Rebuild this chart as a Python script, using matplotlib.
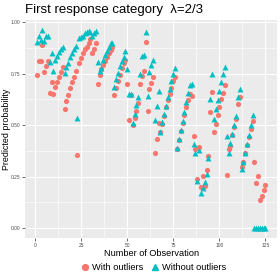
import numpy as np
import matplotlib
matplotlib.use("Agg")
import matplotlib.pyplot as plt
from matplotlib.lines import Line2D

plt.rcParams['font.family'] = ['Liberation Sans', 'DejaVu Sans']

# Predicted probabilities, observation 1..125
obs = np.arange(1, 126)

with_outliers = [
    .741, .809, .809, .89, .76, .788, .809,
    .658, .71, .652, .683, .71, .736, .76, .783,
    .578, .615, .647, .68, .707, .735, .762,
    .356,
    .80, .825, .85, .87, .88, .90, .92, .85, .87, .90,
    .70, .744, .772, .79, .81, .83, .85, .865, .88,
    .644, .68, .712, .744, .777, .80, .817,
    .70, .525, .647, .50, .534, .571, .607,
    .70, .74, .765, .906, .569, .676, .704, .736,
    .367, .433, .51,
    .469, .506, .545, .587, .62, .652, .68, .712, .736,
    .383, .43, .47, .51, .55, .59, .623, .652, .642,
    .448, .383, .238, .396, .199, .254, .205, .283, .351,
    .566, .663, .469, .506, .547, .587, .626, .658, .696,
    .259, .383, .40, .45, .49, .53, .603, .636,
    .299, .323, .364, .404, .44, .48, .522,
    .323, .221, .254, .137, .157, .183, .21,
]

without_outliers = [
    .903, .935, .914, .963, .91, .933, .935,
    .806, .85, .765, .817, .836, .854, .87, .88,
    .752, .78, .804, .83, .852, .87, .885,
    .534,
    .922, .93, .935, .947, .95, .955, .95, .935, .945, .955,
    .806, .764, .777, .817, .84, .86, .88, .90, .90,
    .683, .725, .752, .785, .809, .833, .86,
    .773, .653, .653, .51, .553, .598, .639,
    .748, .838, .84, .95, .642, .757, .79, .817,
    .526, .595, .667,
    .469, .513, .555, .594, .636, .675, .712, .749, .777,
    .388, .432, .477, .521, .566, .61, .655, .696, .70,
    .41, .367, .231, .377, .17, .194, .226, .264, .34,
    .628, .748, .53, .578, .623, .667, .707, .748, .78,
    .445, .367, .413, .458, .501, .542, .636, .675,
    .286, .323, .367, .41, .453, .50, .55,
    0, 0, 0, 0, 0, 0, 0,
]

x_ticks = [0, 25, 50, 75, 100, 125]
y_ticks = [0.00, 0.25, 0.50, 0.75, 1.00]

red = "#F8766D"
teal = "#00BFC4"

fig = plt.figure(figsize=(2.8, 2.8), dpi=100)
ax = fig.add_axes([0.091, 0.15, 0.898, 0.779])
ax.set_facecolor("#EBEBEB")

ax.scatter(obs, with_outliers, s=14, marker="o", color=red, linewidths=0, zorder=3)
ax.scatter(obs, without_outliers, s=18, marker="^", color=teal, linewidths=0, zorder=4)

ax.set_xlim(-5.2, 131.2)
ax.set_ylim(-0.048, 1.011)
ax.set_xticks(x_ticks)
ax.set_yticks(y_ticks)
ax.set_xticklabels([str(t) for t in x_ticks])
ax.set_yticklabels(["%.2f" % t for t in y_ticks])
ax.set_xticks([12.5, 37.5, 62.5, 87.5, 112.5], minor=True)
ax.set_yticks([0.125, 0.375, 0.625, 0.875], minor=True)
ax.grid(True, which="major", color="white", linewidth=0.8, zorder=0)
ax.grid(True, which="minor", color="white", linewidth=0.4, zorder=0)
ax.set_axisbelow(True)
for sp in ax.spines.values():
    sp.set_visible(False)
ax.tick_params(which="major", length=2, width=0.5, color="#333333",
               labelsize=3.5, labelcolor="#4D4D4D", pad=1.5)
ax.tick_params(which="minor", length=0)

ax.set_xlabel("Number of Observation", fontsize=6.6, labelpad=1)
ax.set_ylabel("Predicted probability", fontsize=6.4)
ax.yaxis.set_label_coords(-0.056, 0.5)
ax.set_title("First response category  \u03bb=2/3", fontsize=9.5, loc="left",
             pad=5, x=0.0)

handles = [
    Line2D([], [], marker="o", color=red, linestyle="none", markersize=4.2),
    Line2D([], [], marker="^", color=teal, linestyle="none", markersize=4.6),
]
fig.legend(handles, ["With outliers", "Without outliers"], loc="center",
           bbox_to_anchor=(0.55, 0.045), ncol=2, frameon=False, fontsize=6.7,
           handlelength=0.9, handletextpad=0.3, columnspacing=0.8)

fig.savefig("out.png", dpi=100)
